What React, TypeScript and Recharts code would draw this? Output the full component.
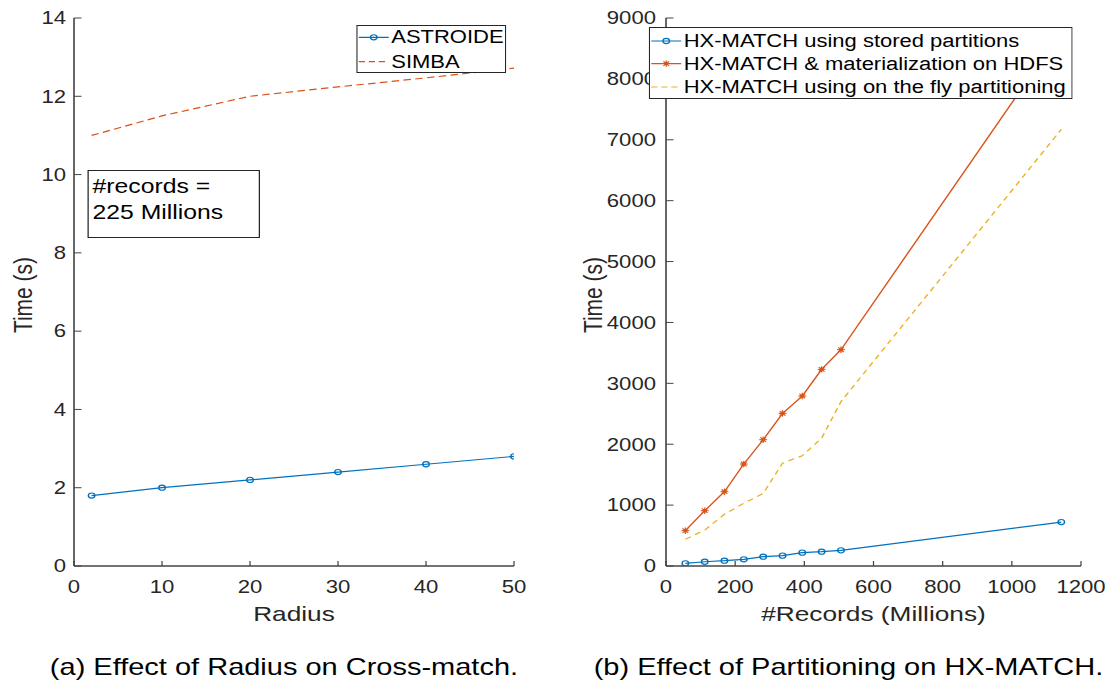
import { Legend, Line, LineChart, XAxis, YAxis } from "recharts";

// ---- (a) Effect of Radius on Cross-match ----
const radius = [2, 10, 20, 30, 40, 50];
const astroide = [1.8, 2.0, 2.2, 2.4, 2.6, 2.8];
const simba = [11.0, 11.5, 12.0, 12.24, 12.47, 12.72];
const radiusTicks = [0, 10, 20, 30, 40, 50];
const timeTicksA = [0, 2, 4, 6, 8, 10, 12, 14];

// ---- (b) Effect of Partitioning on HX-MATCH ----
const records = [56, 112, 169, 225, 281, 337, 394, 450, 506, 1143];
const storedPartitions = [44, 70, 87, 110, 153, 170, 219, 235, 257, 722];
const materialization = [580, 908, 1220, 1675, 2074, 2507, 2791, 3230, 3552, 8780];
const onTheFly = [440, 590, 850, 1030, 1190, 1690, 1810, 2100, 2700, 7170];
const recordTicks = [0, 200, 400, 600, 800, 1000, 1200];
const timeTicksB = [0, 1000, 2000, 3000, 4000, 5000, 6000, 7000, 8000, 9000];

// MATLAB default palette
const BLUE = "#0072BD";
const ORANGE = "#D95319";
const YELLOW = "#EDB120";
const AXIS = "#444444";
const TEXT = "#262626";
const FONT = "'Liberation Sans', Arial, Helvetica, sans-serif";

// the reference is a horizontally stretched figure
const STRETCH = 1.25;

const tickStyle = { fontSize: 17.7, fill: TEXT, fontFamily: FONT };

const leftData = radius.map((r, i) => ({ radius: r, astroide: astroide[i], simba: simba[i] }));
const rightData = records.map((r, i) => ({
  records: r,
  stored: storedPartitions[i],
  materialized: materialization[i],
  onTheFly: onTheFly[i],
}));

function Star(props: any) {
  const { cx, cy, index } = props;
  if (cx == null || cy == null) return <g key={`s-${index}`} />;
  const d = 3.2;
  const e = 2.3;
  return (
    <g key={`s-${index}`} stroke={ORANGE} strokeWidth={1}>
      <circle cx={cx} cy={cy} r={1.8} fill={ORANGE} stroke="none" />
      <line x1={cx - d} y1={cy} x2={cx + d} y2={cy} />
      <line x1={cx} y1={cy - d} x2={cx} y2={cy + d} />
      <line x1={cx - e} y1={cy - e} x2={cx + e} y2={cy + e} />
      <line x1={cx - e} y1={cy + e} x2={cx + e} y2={cy - e} />
    </g>
  );
}

function yLabel(cx: number) {
  return (props: any) => {
    const vb = props.viewBox;
    const cy = vb.y + vb.height / 2 + 3;
    return (
      <text
        x={cx}
        y={cy}
        transform={`rotate(-90 ${cx} ${cy})`}
        textAnchor="middle"
        dominantBaseline="central"
        fontSize={21}
        fill={TEXT}
        fontFamily={FONT}
      >
        Time (s)
      </text>
    );
  };
}

function xLabel(text: string, baseline: number) {
  return (props: any) => {
    const vb = props.viewBox;
    return (
      <text
        x={vb.x + vb.width / 2}
        y={baseline}
        textAnchor="middle"
        fontSize={21}
        fill={TEXT}
        fontFamily={FONT}
      >
        {text}
      </text>
    );
  };
}

interface LegendItem {
  label: string;
  color: string;
  kind: "circle" | "star" | "dash";
}

function LegendBox({ items, width, height, rows }: { items: LegendItem[]; width: number; height: number; rows: number[] }) {
  return (
    <svg width={width} height={height} style={{ display: "block" }}>
      <rect x={0.5} y={0.5} width={width - 1} height={height - 1} fill="#fff" stroke={TEXT} strokeWidth={1} />
      {items.map((it, i) => {
        const cy = rows[i];
        return (
          <g key={it.label}>
            <line
              x1={2}
              y1={cy}
              x2={26}
              y2={cy}
              stroke={it.color}
              strokeWidth={1.2}
              strokeDasharray={it.kind === "dash" ? "5 3" : undefined}
            />
            {it.kind === "circle" && <circle cx={14} cy={cy} r={2.6} fill="none" stroke={it.color} strokeWidth={1.1} />}
            {it.kind === "star" && <Star cx={14} cy={cy} index={i} />}
            <text x={28} y={cy} dominantBaseline="central" fontSize={17.6} fill="#000" fontFamily={FONT}>
              {it.label}
            </text>
          </g>
        );
      })}
    </svg>
  );
}

const legendA: LegendItem[] = [
  { label: "ASTROIDE", color: BLUE, kind: "circle" },
  { label: "SIMBA", color: ORANGE, kind: "dash" },
];

const legendB: LegendItem[] = [
  { label: "HX-MATCH using stored partitions", color: BLUE, kind: "circle" },
  { label: "HX-MATCH & materialization on HDFS", color: ORANGE, kind: "star" },
  { label: "HX-MATCH using on the fly partitioning", color: YELLOW, kind: "dash" },
];

const axisLine = { stroke: AXIS, strokeWidth: 1.3 };
const tickLine = { stroke: AXIS, strokeWidth: 1 };

function ChartA() {
  return (
    <LineChart width={430} height={640} data={leftData} margin={{ top: 18, right: 18.8, left: 9.2, bottom: 14 }}>
      <XAxis
        dataKey="radius"
        type="number"
        domain={[0, 50]}
        ticks={radiusTicks}
        allowDataOverflow
        height={60}
        tickSize={-5}
        tickMargin={19}
        axisLine={axisLine}
        tickLine={tickLine}
        tick={tickStyle}
        label={{ content: xLabel("Radius", 621) }}
      />
      <XAxis
        xAxisId="top"
        orientation="top"
        type="number"
        domain={[0, 50]}
        ticks={radiusTicks}
        allowDataOverflow
        height={0}
        tickSize={-5}
        axisLine={axisLine}
        tickLine={tickLine}
        tick={false}
      />
      <YAxis
        type="number"
        domain={[0, 14]}
        ticks={timeTicksA}
        allowDataOverflow
        width={50}
        tickSize={-6}
        tickMargin={12.4}
        axisLine={axisLine}
        tickLine={tickLine}
        tick={tickStyle}
        label={{ content: yLabel(18.5) }}
      />
      <YAxis
        yAxisId="right"
        orientation="right"
        type="number"
        domain={[0, 14]}
        ticks={timeTicksA}
        allowDataOverflow
        width={0}
        tickSize={-6}
        axisLine={axisLine}
        tickLine={tickLine}
        tick={false}
      />
      <Legend
        layout="horizontal"
        verticalAlign="middle"
        align="center"
        wrapperStyle={{ left: 284.8, top: 25, width: 120, height: 48 }}
        content={() => <LegendBox items={legendA} width={120} height={48} rows={[12.3, 36.7]} />}
      />
      <Line
        dataKey="astroide"
        stroke={BLUE}
        strokeWidth={1.2}
        dot={{ r: 2.6, fill: "none", stroke: BLUE, strokeWidth: 1.1 }}
        isAnimationActive={false}
      />
      <Line
        dataKey="simba"
        stroke={ORANGE}
        strokeWidth={1.2}
        strokeDasharray="6 3.5"
        dot={false}
        isAnimationActive={false}
      />
    </LineChart>
  );
}

function ChartB() {
  return (
    <LineChart width={445} height={640} data={rightData} margin={{ top: 18, right: 20.2, left: 32.8, bottom: 14 }}>
      <XAxis
        dataKey="records"
        type="number"
        domain={[0, 1200]}
        ticks={recordTicks}
        allowDataOverflow
        height={60}
        tickSize={-5}
        tickMargin={19}
        axisLine={axisLine}
        tickLine={tickLine}
        tick={tickStyle}
        label={{ content: xLabel("#Records (Millions)", 621) }}
      />
      <XAxis
        xAxisId="top"
        orientation="top"
        type="number"
        domain={[0, 1200]}
        ticks={recordTicks}
        allowDataOverflow
        height={0}
        tickSize={-5}
        axisLine={axisLine}
        tickLine={tickLine}
        tick={false}
      />
      <YAxis
        type="number"
        domain={[0, 9000]}
        ticks={timeTicksB}
        allowDataOverflow
        width={60}
        tickSize={-6}
        tickMargin={14}
        axisLine={axisLine}
        tickLine={tickLine}
        tick={tickStyle}
        label={{ content: yLabel(34.4) }}
      />
      <YAxis
        yAxisId="right"
        orientation="right"
        type="number"
        domain={[0, 9000]}
        ticks={timeTicksB}
        allowDataOverflow
        width={0}
        tickSize={-6}
        axisLine={axisLine}
        tickLine={tickLine}
        tick={false}
      />
      <Legend
        layout="horizontal"
        verticalAlign="middle"
        align="center"
        wrapperStyle={{ left: 79.2, top: 26.7, width: 339.2, height: 72 }}
        content={() => <LegendBox items={legendB} width={339.2} height={72} rows={[14, 36.6, 60]} />}
      />
      <Line
        dataKey="stored"
        stroke={BLUE}
        strokeWidth={1.2}
        dot={{ r: 2.6, fill: "none", stroke: BLUE, strokeWidth: 1.1 }}
        isAnimationActive={false}
      />
      <Line
        dataKey="materialized"
        stroke={ORANGE}
        strokeWidth={1.2}
        dot={(p: any) => <Star key={`m-${p.index}`} {...p} />}
        isAnimationActive={false}
      />
      <Line
        dataKey="onTheFly"
        stroke={YELLOW}
        strokeWidth={1.2}
        strokeDasharray="5 4"
        dot={false}
        isAnimationActive={false}
      />
    </LineChart>
  );
}

const captionStyle: React.CSSProperties = {
  position: "absolute",
  top: 656,
  width: 420,
  textAlign: "center",
  fontFamily: FONT,
  fontSize: 23.2,
  lineHeight: 1,
  color: "#000",
  whiteSpace: "nowrap",
};

export default function App() {
  return (
    <div
      style={{
        position: "absolute",
        left: 0,
        top: 0,
        width: 1113 / STRETCH,
        height: 689,
        overflow: "hidden",
        background: "#fff",
        transform: `scaleX(${STRETCH})`,
        transformOrigin: "0 0",
      }}
    >
      <div style={{ position: "absolute", left: 0, top: 0 }}>
        <ChartA />
        <div
          style={{
            position: "absolute",
            left: 69.6,
            top: 169.5,
            width: 138.4,
            height: 68.1,
            boxSizing: "border-box",
            border: `1px solid ${TEXT}`,
            background: "#fff",
            padding: "2.5px 0 0 3.5px",
            fontFamily: FONT,
            fontSize: 19.8,
            lineHeight: "26.3px",
            color: "#000",
            whiteSpace: "nowrap",
          }}
        >
          <div>#records =</div>
          <div>225 Millions</div>
        </div>
      </div>
      <div style={{ position: "absolute", left: 440, top: 0 }}>
        <ChartB />
      </div>
      <div style={{ ...captionStyle, left: 227.2 - 210 }}>(a) Effect of Radius on Cross-match.</div>
      <div style={{ ...captionStyle, left: 678.8 - 210 }}>(b) Effect of Partitioning on HX-MATCH.</div>
    </div>
  );
}
